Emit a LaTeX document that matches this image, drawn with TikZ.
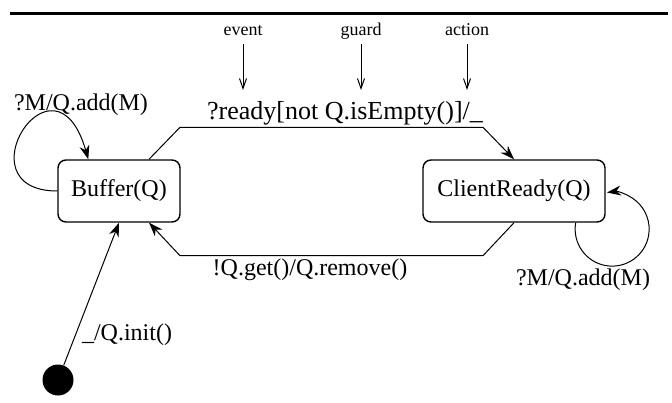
\documentclass[tikz,border=0pt]{standalone}
\usepackage{fontspec}
\setmainfont{Liberation Serif}
\usepackage{tikz}
\usetikzlibrary{arrows.meta}
\tikzset{
  statebox/.style = {draw,rounded corners=4pt,line width=0.7pt,minimum height=31pt,inner sep=0pt,font=\fontsize{12}{14}\selectfont},
  trans/.style    = {-{Stealth[length=7pt,width=5pt]},line width=0.5pt},
  pointer/.style  = {-{Straight Barb[length=5pt,width=3.5pt]},line width=0.5pt},
  lbl/.style      = {font=\fontsize{12}{14}\selectfont,inner sep=0pt},
  tag/.style      = {font=\fontsize{9}{11}\selectfont,inner sep=2pt,text height=6.5pt,text depth=2pt}
}

\begin{document}
\begin{tikzpicture}[x=0.5pt,y=0.5pt]
  \useasboundingbox (0,0) rectangle (672,402);
  \draw[line width=1.5pt] (10,388) -- (668,388);
  \node[statebox,minimum width=61pt] (buf) at (119,211) {Buffer(Q)};
  \node[statebox,minimum width=91pt] (cr)  at (514,211) {ClientReady(Q)};
  \node[circle,fill,inner sep=0pt,minimum size=15.5pt] (init) at (58,22) {};
  \draw[trans] ([xshift=15pt]buf.north) -- ++(31,32) -- ++(303,0) -- (cr.north);
  \draw[trans] (cr.south) -- ++(-31,-33) -- ++(-303,0) -- ([xshift=15pt]buf.south);
  \draw[trans] (buf.west) .. controls +(-98,0) and +(-34,118) .. ([xshift=15.5pt]buf.north west);
  \draw[trans] ([xshift=-15pt]cr.south east) arc[start angle=170,end angle=458,radius=37];
  \draw[trans] (init) -- (buf.south);
  \node[lbl,font=\fontsize{13}{15}\selectfont] (lready) at (345,289) {?ready[not Q.isEmpty()]/\_};
  \node[lbl] (lget)   at (310,132) {!Q.get()/Q.remove()};
  \node[lbl] (laddb)  at (81,297)  {?M/Q.add(M)};
  \node[lbl] (laddc)  at (583,122) {?M/Q.add(M)};
  \node[lbl] (linit)  at (127,67)  {\_/Q.init()};
  \node[tag] (event)  at (243,371) {event};
  \node[tag] (guard)  at (361,371) {guard};
  \node[tag] (action) at (467,371) {action};
  \coordinate (evtip) at (243,312);
  \coordinate (gdtip) at (361,312);
  \coordinate (actip) at (467,312);
  \draw[pointer] (event)  -- (evtip);
  \draw[pointer] (guard)  -- (gdtip);
  \draw[pointer] (action) -- (actip);
\end{tikzpicture}
\end{document}
